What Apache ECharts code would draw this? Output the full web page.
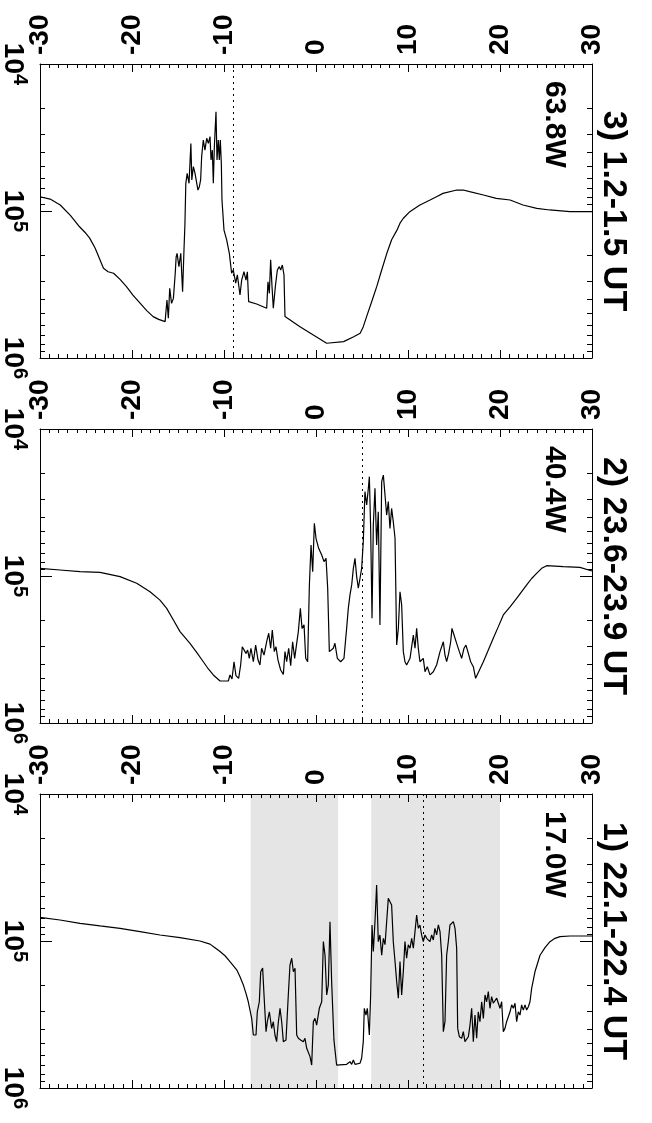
<!DOCTYPE html>
<html>
<head>
<meta charset="utf-8">
<script src="https://cdn.jsdelivr.net/npm/echarts@6/dist/echarts.min.js"></script>
<style>
  html, body { margin: 0; padding: 0; background: #fff; }
  #chart { width: 652px; height: 1123px; }
</style>
</head>
<body>
<div id="chart"></div>
<script>
// panel 3) 1.2-1.5 UT
const lat3 = [-30.0, -28.9, -27.8, -26.7, -25.7, -25.1, -24.6, -24.0, -23.1, -22.6, -22.0, -21.3, -20.6, -19.9, -19.1,
  -18.4, -17.7, -17.1, -16.4,
  -16.2, -16.05, -15.9, -15.7, -15.5, -15.3, -15.2, -15.1, -14.9, -14.7, -14.5, -14.35, -14.25, -14.15,
  -14.0, -13.8, -13.6, -13.5, -13.33, -13.15, -12.97, -12.83, -12.68, -12.54, -12.43, -12.25, -12.07,
  -11.88, -11.7, -11.52, -11.41, -11.27, -11.16, -11.05, -10.87, -10.76, -10.62, -10.51, -10.4, -10.29,
  -10.22, -10.0, -9.71, -9.42, -9.17, -8.99, -8.73, -8.55, -8.26, -8.08, -7.83, -7.61, -7.46, -7.32,
  -6.45, -5.36, -5.22, -5.07, -4.93, -4.78, -4.64, -4.42, -4.2, -3.99, -3.84, -3.66, -3.48, -3.37,
  -1.74, -0.29, 1.16, 3.0, 4.1, 4.8, 5.14, 5.5, 6.05, 6.6, 7.14, 7.7, 8.22, 8.8, 9.13, 9.5, 10.2, 10.76,
  11.3, 12.4, 13.1, 13.8, 15.3, 16.0, 16.7, 18.2, 19.6, 21.1, 22.5, 24.0, 25.4, 27.6, 30.0];
const val3 = [8.0e4, 8.3e4, 9.1e4, 1.07e5, 1.28e5, 1.40e5, 1.53e5, 1.79e5, 2.45e5, 2.59e5, 2.65e5, 2.92e5, 3.27e5, 3.73e5, 4.25e5,
  4.76e5, 5.23e5, 5.46e5, 5.66e5,
  4.03e5, 5.37e5, 3.36e5, 4.25e5, 3.93e5, 2.65e5, 2.05e5, 1.94e5, 2.39e5, 1.94e5, 3.54e5, 1.84e5, 1.25e5, 6.48e4,
  5.54e4, 6.48e4, 3.47e4, 6.15e4, 4.99e4, 5.54e4, 5.40e4, 7.2e4, 6.83e4, 6.15e4, 4.27e4, 3.29e4, 3.85e4,
  3.2e4, 3.47e4, 3.12e4, 4.5e4, 3.85e4, 6.48e4, 3.65e4, 2.11e4, 4.5e4, 3.29e4, 4.5e4, 3.29e4, 4.74e4,
  8.42e4, 1.35e5, 1.57e5, 1.94e5, 2.65e5, 2.52e5, 3.1e5, 2.72e5, 3.73e5, 2.95e5, 2.59e5, 2.95e5, 2.59e5, 4.14e5,
  4.29e5, 4.59e5, 3.03e5, 3.63e5, 2.15e5, 3.27e5, 4.59e5, 3.27e5, 2.52e5, 2.39e5, 2.52e5, 2.33e5, 2.72e5, 5.23e5,
  6.12e5, 6.98e5, 7.94e5, 7.74e5, 7.16e5, 6.79e5, 6.12e5, 5.23e5, 4.14e5, 3.27e5, 2.52e5, 1.94e5, 1.57e5, 1.35e5, 1.21e5, 1.12e5, 1.01e5, 9.59e4,
  9.1e4, 8.42e4, 7.99e4, 7.59e4, 7.2e4, 7.2e4, 7.39e4, 7.78e4, 8.2e4, 8.42e4, 9.1e4, 9.59e4, 9.84e4, 1.01e5, 1.01e5];

// panel 2) 23.6-23.9 UT
const lat2 = [-30.0, -27.83, -25.65, -23.48, -21.3, -19.49, -18.04, -16.96, -16.23, -15.5, -14.78, -13.7, -12.97, -12.25, -11.7, -11.16,
  -10.43, -9.53, -9.35, -9.13, -8.91, -8.7, -8.41, -8.19, -8.01, -7.83, -7.61, -7.43, -7.25, -7.07, -6.81,
  -6.56, -6.3, -6.09, -5.91, -5.65, -5.36, -5.14, -4.93, -4.75, -4.53, -4.35, -4.13, -3.84, -3.55, -3.37,
  -3.19, -2.97, -2.75, -2.54, -2.32, -2.1, -1.92, -1.7, -1.52, -1.3, -1.12, -0.91, -0.72, -0.54, -0.36,
  -0.18, 0.0, 0.29, 0.62, 0.87, 1.09, 1.27, 1.45, 1.88, 2.06, 2.32, 2.68, 3.04, 3.33, 3.51, 3.69, 3.88,
  4.06, 4.24, 4.42, 4.6, 4.78, 4.96, 5.14, 5.32, 5.51, 5.69, 5.8, 5.94, 6.09, 6.23, 6.41, 6.59, 6.77,
  6.95, 7.14, 7.32, 7.5, 7.68, 7.86, 8.04, 8.22, 8.4, 8.59, 8.77, 8.95, 9.13, 9.31, 9.49, 9.67, 9.85,
  10.22, 10.58, 10.76, 10.94, 11.12, 11.3, 11.66, 11.85, 12.1, 12.39, 12.75, 13.11, 13.48, 13.84, 14.02,
  14.2, 14.42, 14.64, 14.78, 15.0, 15.29, 15.58, 15.83, 16.09, 16.3, 16.56, 16.81, 17.1, 17.35, 18.19, 18.73,
  19.27, 19.82, 20.36, 21.09, 21.81, 22.9, 23.44, 23.98, 24.53, 25.07, 26.88, 28.69, 30.0];
const val2 = [8.87e4, 9.1e4, 9.34e4, 9.44e4, 1.01e5, 1.12e5, 1.28e5, 1.46e5, 1.66e5, 1.99e5, 2.39e5, 2.87e5, 3.31e5, 3.83e5, 4.29e5, 4.71e5,
  5.18e5, 5.18e5, 4.71e5, 5.02e5, 3.83e5, 4.76e5, 4.97e5, 4.03e5, 3.03e5, 2.95e5, 3.36e5, 3.19e5, 3.63e5, 3.1e5, 3.83e5,
  2.95e5, 3.73e5, 4.03e5, 3.1e5, 3.45e5, 2.8e5, 2.45e5, 3.1e5, 2.33e5, 3.27e5, 3.03e5, 3.73e5, 4.36e5, 4.67e5, 3.27e5,
  3.83e5, 3.1e5, 4.07e5, 2.8e5, 3.63e5, 2.87e5, 2.39e5, 1.66e5, 2.27e5, 2.15e5, 3.63e5, 3.83e5, 1.15e5, 6.15e4, 9.34e4,
  4.38e4, 5.54e4, 6.48e4, 7.2e4, 7.99e4, 7.59e4, 1.21e5, 3.27e5, 3.1e5, 2.87e5, 3.63e5, 3.83e5, 3.63e5, 2.27e5, 1.66e5, 1.35e5, 1.15e5,
  8.87e4, 7.59e4, 1.01e5, 1.21e5, 1.04e5, 8.87e4, 5.84e4, 2.67e4, 3.29e4, 2.53e4, 2.11e4, 4.74e4, 1.94e5, 4.5e4, 2.53e4, 6.15e4, 3.65e4,
  2.15e5, 2.28e4, 2.06e4, 2.81e4, 3.85e4, 3.12e4, 4.74e4, 3.47e4, 4.27e4, 5.54e4, 2.95e5, 2.27e5, 1.28e5, 1.57e5, 3.27e5, 3.83e5, 4.03e5,
  3.63e5, 2.52e5, 3.1e5, 2.27e5, 3.1e5, 3.83e5, 3.63e5, 4.48e5, 4.14e5, 4.71e5, 4.48e5, 4.03e5, 3.27e5, 2.8e5, 3.45e5,
  3.83e5, 3.36e5, 2.8e5, 2.27e5, 2.52e5, 2.87e5, 3.27e5, 3.63e5, 3.1e5, 2.95e5, 3.36e5, 3.83e5, 4.14e5, 4.97e5, 3.83e5, 3.19e5,
  2.65e5, 2.21e5, 1.84e5, 1.62e5, 1.42e5, 1.15e5, 1.04e5, 9.59e4, 8.87e4, 8.51e4, 8.64e4, 8.73e4, 9.25e4];

// panel 1) 22.1-22.4 UT
const lat1 = [-30.0, -27.83, -25.65, -23.48, -21.3, -19.13, -16.96, -14.78, -12.61, -11.52, -10.98, -10.43, -9.89, -9.35,
  -8.62, -8.26, -7.9, -7.61, -7.36, -6.99, -6.81, -6.52, -6.38, -6.16, -6.01, -5.8, -5.65, -5.43, -5.29, -5.07, -4.82,
  -4.64, -4.46, -4.28, -4.09, -3.91, -3.73, -3.55, -3.26, -3.01, -2.83, -2.64, -2.46, -2.28, -2.1, -1.92,
  -1.67, -1.38, -1.2, -1.01, -0.65, -0.47, -0.29, -0.11, 0.07, 0.36, 0.62, 0.8, 0.98, 1.16, 1.34, 1.52,
  1.7, 1.95, 2.24, 3.33, 3.69, 3.88, 4.06, 4.24, 4.78, 4.96, 5.14, 5.25, 5.43, 5.58, 5.8, 5.94, 6.09,
  6.23, 6.41, 6.59, 6.77, 6.95, 7.14, 7.32, 7.5, 7.68, 7.86, 8.04, 8.22, 8.4, 8.59, 8.77, 8.95, 9.13,
  9.31, 9.49, 9.67, 9.85, 10.03, 10.22, 10.4, 10.58, 10.76, 10.94, 11.12, 11.3, 11.48, 11.66, 11.85,
  12.03, 12.21, 12.39, 12.57, 12.75, 12.93, 13.11, 13.3, 13.48, 13.66, 13.84, 14.02, 14.2, 14.38, 14.56,
  14.74, 14.93, 15.11, 15.29, 15.4, 15.58, 15.83, 16.01, 16.19, 16.38, 16.56, 16.74, 16.92, 17.1, 17.28,
  17.46, 17.64, 17.82, 18.01, 18.19, 18.37, 18.55, 18.73, 18.91, 19.09, 19.27, 19.64, 20.0, 20.18, 20.36,
  20.54, 20.72, 21.09, 21.27, 21.45, 21.63, 21.81, 21.99, 22.17, 22.35, 22.53, 22.72, 22.9, 23.08, 23.26,
  23.44, 23.8, 24.35, 24.89, 25.43, 25.98, 26.52, 27.61, 30.0];
const val1 = [6.9e4, 7.2e4, 7.59e4, 7.9e4, 8.2e4, 8.64e4, 9.1e4, 9.49e4, 1.0e5, 1.05e5, 1.11e5, 1.18e5, 1.26e5, 1.38e5,
  1.57e5, 1.75e5, 1.99e5, 2.27e5, 2.59e5, 3.36e5, 4.36e5, 4.36e5, 3.03e5, 2.59e5, 1.62e5, 1.53e5, 2.33e5, 4.14e5, 3.54e5, 3.03e5, 3.93e5,
  3.54e5, 4.36e5, 4.84e5, 3.54e5, 2.87e5, 3.54e5, 4.84e5, 4.71e5, 2.33e5, 1.46e5, 1.31e5, 1.62e5, 1.53e5, 4.36e5, 4.59e5,
  4.71e5, 4.84e5, 4.59e5, 5.37e5, 6.12e5, 6.98e5, 3.54e5, 3.36e5, 3.73e5, 2.87e5, 2.59e5, 1.01e5, 1.25e5, 2.33e5, 1.99e5, 7.39e4,
  1.89e5, 4.71e5, 6.98e5, 6.9e5, 6.62e5, 6.9e5, 6.45e5, 6.9e5, 6.79e5, 6.28e5, 4.84e5, 2.87e5, 3.19e5, 2.87e5, 4.36e5, 2.33e5, 7.78e4,
  1.18e5, 7.39e4, 4.16e4, 1.01e5, 9.1e4, 1.25e5, 9.59e4, 1.06e5, 7.39e4, 5.13e4, 5.4e4, 5.69e4, 1.01e5, 1.38e5, 1.89e5, 2.45e5, 1.38e5,
  2.33e5, 1.62e5, 1.01e5, 1.31e5, 1.06e5, 1.12e5, 9.59e4, 1.12e5, 8.64e4, 6.65e4, 8.2e4, 7.78e4, 9.1e4, 1.01e5, 9.1e4,
  9.59e4, 9.34e4, 1.01e5, 9.1e4, 9.84e4, 8.2e4, 9.1e4, 7.78e4, 8.64e4, 1.25e5, 4.14e5, 3.54e5, 1.25e5, 1.01e5, 7.78e4,
  7.59e4, 7.39e4, 8.2e4, 1.12e5, 3.93e5, 4.48e5, 4.59e5, 4.14e5, 4.84e5, 4.71e5, 4.48e5, 3.73e5, 2.87e5, 4.84e5, 3.19e5,
  4.59e5, 3.03e5, 3.54e5, 2.59e5, 3.36e5, 2.33e5, 2.59e5, 2.21e5, 2.87e5, 2.39e5, 2.65e5, 2.45e5, 2.87e5, 2.59e5, 4.14e5,
  3.93e5, 3.54e5, 3.03e5, 2.72e5, 2.87e5, 2.65e5, 3.54e5, 3.03e5, 3.19e5, 2.72e5, 2.95e5, 2.72e5, 2.95e5, 2.8e5, 2.59e5,
  2.1e5, 1.62e5, 1.25e5, 1.11e5, 1.01e5, 9.59e4, 9.34e4, 9.25e4, 9.25e4];

const titles = ['3) 1.2-1.5 UT', '2) 23.6-23.9 UT', '1) 22.1-22.4 UT'];
const longitudes = ['63.8W', '40.4W', '17.0W'];
const dottedLat = [-9.0, 5.0, 11.7];
const bands1 = [[-7.1, 2.4], [6.0, 20.0]];
const lats = [lat3, lat2, lat1];
const vals = [val3, val2, val1];

const FONT = '"Liberation Sans", Arial, Helvetica, sans-serif';
const tops = [64, 429, 794];
const plotH = 294;
const left = 40;
const plotW = 552;

const chart = echarts.init(document.getElementById('chart'));
const line = { color: '#000', width: 1 };

const grid = [], xAxis = [], yAxis = [], series = [], graphic = [];
tops.forEach((top, i) => {
  grid.push({ left: left, top: top, width: plotW, height: plotH, outerBoundsMode: 'none' });
  const xBase = {
    gridIndex: i, type: 'value', min: -30, max: 30, interval: 10, z: 10,
    axisLine: { show: true, onZero: false, lineStyle: line },
    axisTick: { show: true, inside: true, length: 8, lineStyle: line },
    minorTick: { show: true, splitNumber: 10, length: 4, lineStyle: line },
    splitLine: { show: false }
  };
  xAxis.push(Object.assign({}, xBase, {
    position: 'top',
    axisLabel: { show: true, rotate: -90, margin: 9, color: '#000', fontSize: 28, fontWeight: 'bold', fontFamily: FONT }
  }));
  xAxis.push(Object.assign({}, xBase, { position: 'bottom', axisLabel: { show: false } }));
  const yBase = {
    gridIndex: i, type: 'log', logBase: 10, min: 1e4, max: 1e6, inverse: true, z: 10,
    axisLine: { show: true, onZero: false, lineStyle: line },
    axisTick: { show: true, inside: true, length: 12, lineStyle: line },
    minorTick: { show: true, splitNumber: 9, length: 5, lineStyle: line },
    splitLine: { show: false }
  };
  yAxis.push(Object.assign({}, yBase, {
    position: 'left',
    axisLabel: {
      show: true, rotate: -90, margin: 10, color: '#000',
      formatter: v => '{b|10}{e|' + Math.round(Math.log10(v)) + '}',
      rich: {
        b: { fontSize: 28, fontWeight: 'bold', fontFamily: FONT, color: '#000' },
        e: { fontSize: 20, fontWeight: 'bold', fontFamily: FONT, color: '#000', padding: [0, 0, 14, 0] }
      }
    }
  }));
  yAxis.push(Object.assign({}, yBase, { position: 'right', axisLabel: { show: false } }));

  if (i === 2) {
    series.push({
      type: 'line', xAxisIndex: 2 * i, yAxisIndex: 2 * i, data: [], z: 1, silent: true,
      markArea: {
        silent: true,
        itemStyle: { color: '#e5e5e5', opacity: 1 },
        data: bands1.map(b => [{ xAxis: b[0] }, { xAxis: b[1] }])
      }
    });
  }
  series.push({
    type: 'line', xAxisIndex: 2 * i, yAxisIndex: 2 * i, z: 5,
    data: lats[i].map((la, k) => [la, vals[i][k]]),
    showSymbol: false, symbol: 'none', clip: true,
    lineStyle: { color: '#000', width: 1.2 },
    markLine: {
      silent: true, symbol: ['none', 'none'], label: { show: false },
      lineStyle: { color: '#000', width: 1, type: [2, 4] },
      data: [{ xAxis: dottedLat[i] }]
    }
  });

  graphic.push({
    type: 'text', x: 613, y: top + plotH / 2, rotation: -Math.PI / 2,
    style: { text: titles[i], fill: '#000', font: 'bold 34px ' + FONT, textAlign: 'center', textVerticalAlign: 'middle' }
  });
  graphic.push({
    type: 'text', x: 554, y: top + 17, rotation: -Math.PI / 2,
    style: { text: longitudes[i], fill: '#000', font: 'bold 30px ' + FONT, textAlign: 'left', textVerticalAlign: 'middle' }
  });
});

chart.setOption({
  animation: false,
  backgroundColor: '#fff',
  grid: grid,
  xAxis: xAxis,
  yAxis: yAxis,
  series: series,
  graphic: graphic
});
window.addEventListener('resize', () => { chart.resize(); });
</script>
</body>
</html>
